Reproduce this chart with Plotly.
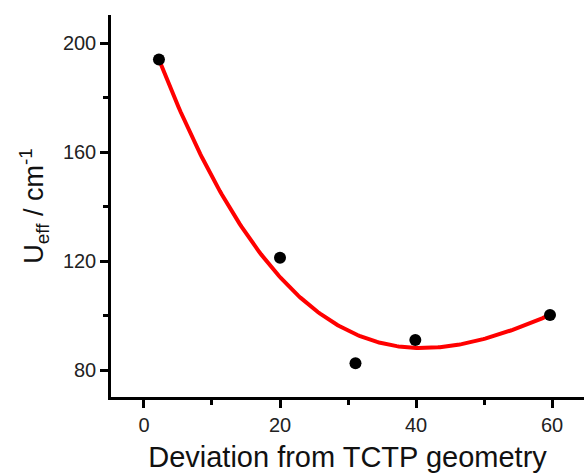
import numpy as np
import plotly.graph_objects as go

deviation = [2.2, 20.0, 31.1, 39.9, 59.7]
u_eff = [194.0, 121.2, 82.5, 91.0, 100.2]

fit_coeffs = [-0.0006299, 0.12357, -6.9493, 208.697]

x_ticks = [0, 20, 40, 60]
y_ticks = [80, 120, 160, 200]

fx = np.linspace(min(deviation), max(deviation), 200)
fy = np.polyval(fit_coeffs, fx)

fig = go.Figure()
fig.add_trace(go.Scatter(x=fx, y=fy, mode="lines",
                         line=dict(color="#ff0000", width=4), hoverinfo="skip"))
fig.add_trace(go.Scatter(x=deviation, y=u_eff, mode="markers",
                         marker=dict(color="black", size=12)))

axis_common = dict(showgrid=False, zeroline=False, showline=True, linecolor="black",
                   linewidth=2.5, ticks="outside", ticklen=8, tickwidth=2.5,
                   tickcolor="black", tickfont=dict(family="Liberation Sans, Arial", size=20, color="#222"))

fig.update_layout(
    width=584, height=473,
    margin=dict(l=111, r=0, t=15, b=76),
    paper_bgcolor="white", plot_bgcolor="white",
    showlegend=False,
    font=dict(family="Liberation Sans, Arial", color="#111"),
    xaxis=dict(range=[-4.85, 64.7], tickvals=x_ticks,
               minor=dict(dtick=10, tick0=0, ticks="outside", ticklen=5, tickwidth=2.5, tickcolor="black"),
               title=dict(text="Deviation from TCTP geometry", font=dict(size=29), standoff=12),
               **axis_common),
    yaxis=dict(range=[70.1, 210.3], tickvals=y_ticks,
               minor=dict(dtick=20, tick0=80, ticks="outside", ticklen=5, tickwidth=2.5, tickcolor="black"),
               title=dict(text="U<sub>eff</sub> / cm<sup>-1</sup>", font=dict(size=27), standoff=12),
               **axis_common),
)
fig.write_html("out.html")
